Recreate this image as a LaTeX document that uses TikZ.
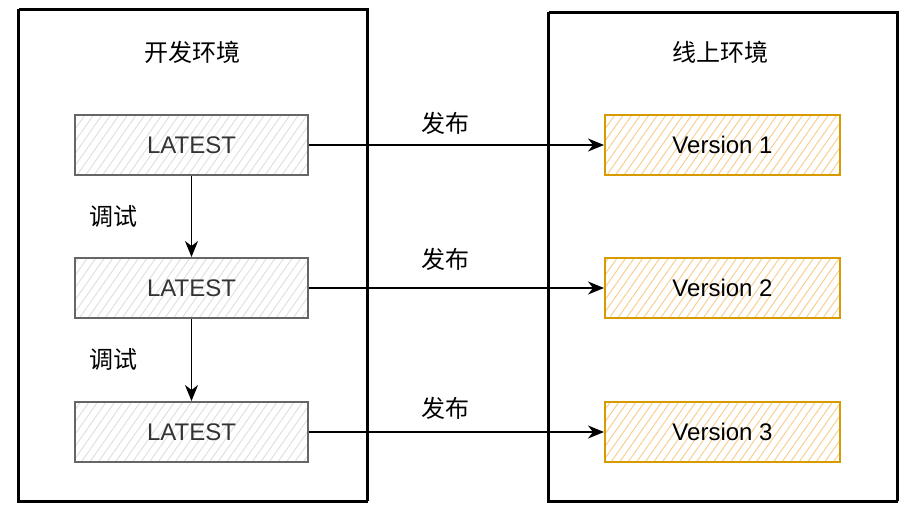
\documentclass[tikz,border=0pt]{standalone}
\usepackage{fontspec}
\setmainfont{Liberation Sans}
\newfontfamily\cjk{Noto Sans CJK SC}
\usetikzlibrary{arrows.meta,patterns.meta}
\definecolor{grayline}{HTML}{666666}
\definecolor{graytext}{HTML}{333333}
\definecolor{grayhatch}{HTML}{E0E0E0}
\definecolor{orangeline}{HTML}{D79B00}
\definecolor{orangehatch}{HTML}{F7CF92}
\begin{document}
\begin{tikzpicture}[x=1pt,y=-1pt,
  container/.style={draw=black, line width=2pt, minimum width=349pt, minimum height=490pt, inner sep=0pt,
    preaction={draw=black, line width=0.8pt, transform canvas={shift={(1.5pt,1.2pt)}}}},
  devbox/.style={draw=grayline, line width=2pt, minimum width=233pt, minimum height=60pt, inner sep=0pt,
    pattern={Lines[angle=55,distance=7pt,line width=1pt]}, pattern color=grayhatch,
    text=graytext, font=\fontsize{24}{28}\selectfont},
  verbox/.style={draw=orangeline, line width=2pt, minimum width=235pt, minimum height=60pt, inner sep=0pt,
    pattern={Lines[angle=55,distance=7pt,line width=1pt]}, pattern color=orangehatch,
    text=black, font=\fontsize{24}{28}\selectfont},
  cjklabel/.style={font=\cjk\fontsize{24}{28}\selectfont, text=black, inner sep=0pt},
  arr/.style={-{Stealth[length=16pt,width=13pt,inset=5pt]}, line width=1.7pt, black},
]
\path[use as bounding box] (0,0) rectangle (915,517);

\node[container, minimum height=492pt] (dev) at (192.5,256) {};
\node[container, minimum height=489pt] (prod) at (722.5,257.5) {};

\node[cjklabel] (devtitle) at (192,52) {开发环境};
\node[cjklabel] (prodtitle) at (720,52) {线上环境};

\node[devbox] (l1) at (191.5,145) {LATEST};
\node[devbox] (l2) at (191.5,288) {LATEST};
\node[devbox] (l3) at (191.5,432) {LATEST};

\node[verbox] (v1) at (722.5,145) {Version 1};
\node[verbox] (v2) at (722.5,288) {Version 2};
\node[verbox] (v3) at (722.5,432) {Version 3};

\draw[arr] (l1) -- (v1);
\draw[arr] (l2) -- (v2);
\draw[arr] (l3) -- (v3);
\draw[arr] (l1) -- (l2);
\draw[arr] (l2) -- (l3);

\node[cjklabel] (p1) at (445,123) {发布};
\node[cjklabel] (p2) at (445,259) {发布};
\node[cjklabel] (p3) at (445,408) {发布};
\node[cjklabel] (d1) at (113,216) {调试};
\node[cjklabel] (d2) at (113,359) {调试};
\end{tikzpicture}
\end{document}
